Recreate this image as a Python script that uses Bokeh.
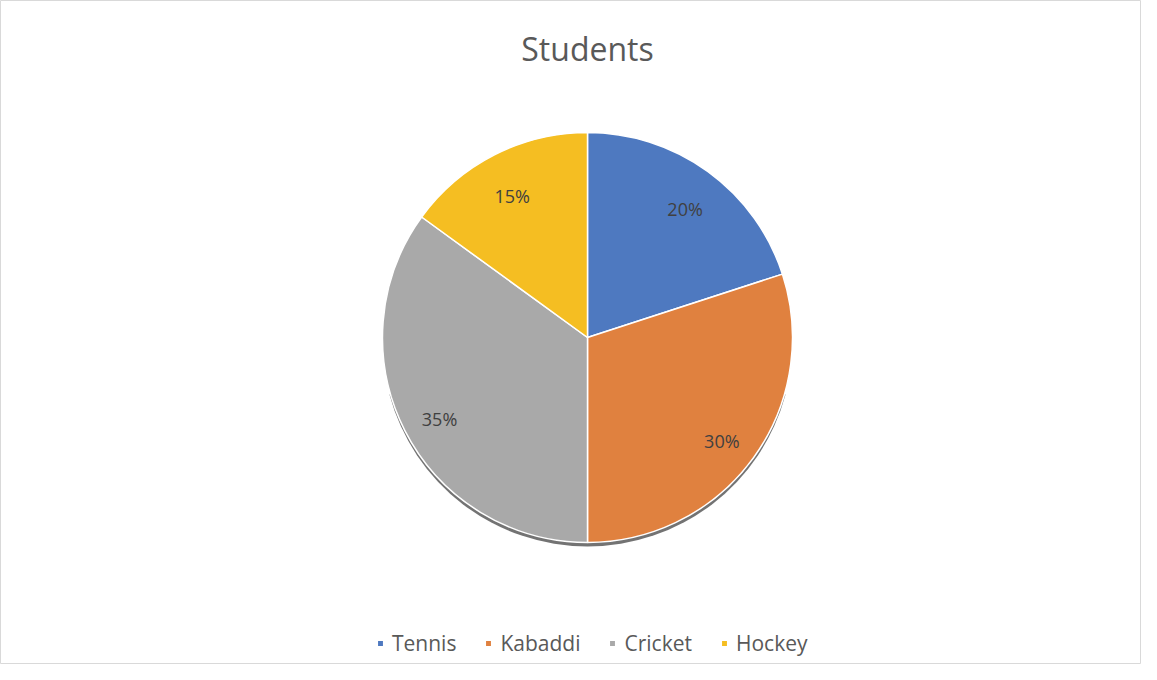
import math
from bokeh.plotting import figure
from bokeh.models import ColumnDataSource, Range1d, Legend, LegendItem
from bokeh.core.properties import value
from bokeh.embed import file_html
from bokeh.resources import INLINE

# ---- data ----
sports = ["Tennis", "Kabaddi", "Cricket", "Hockey"]
shares = [20, 30, 35, 15]
colors = ["#4E79C0", "#E0813F", "#A9A9A9", "#F5BE22"]
title_text = "Students"

# ---- layout constants ----
W, H = 1141, 664
CX, CY = 587, 327
R = 205
LABEL_F = 0.81

total = sum(shares)
starts, ends, lx, ly, labels = [], [], [], [], []
acc = 0.0
for s in shares:
    a0 = math.pi / 2 - 2 * math.pi * acc / total
    acc += s
    a1 = math.pi / 2 - 2 * math.pi * acc / total
    starts.append(a0)
    ends.append(a1)
    mid = (a0 + a1) / 2
    lx.append(CX + LABEL_F * R * math.cos(mid))
    ly.append(CY + LABEL_F * R * math.sin(mid))
    labels.append(f"{s}%")

src = ColumnDataSource(dict(sport=sports, share=shares, color=colors,
                            start=starts, end=ends, lx=lx, ly=ly, label=labels))

p = figure(width=W, height=H, output_backend="svg", toolbar_location=None,
           x_range=Range1d(0, W), y_range=Range1d(0, H), min_border=0)
p.axis.visible = False
p.grid.visible = False
p.outline_line_color = "#d9d9d9"
p.background_fill_color = "white"
p.border_fill_color = "white"

# subtle 3D shadow
p.wedge(x=CX, y=CY - 4, radius=R, start_angle=math.radians(195), end_angle=math.radians(345),
        color="#5a5a5a", alpha=0.85, line_color=None)

r = p.wedge(x=CX, y=CY, radius=R, start_angle="start", end_angle="end", direction="clock",
            fill_color="color", line_color="white", line_width=1.5, source=src)

p.text(x="lx", y="ly", text="label", source=src, text_align="center", text_baseline="middle",
       y_offset=6,
       text_font=value("Open Sans"), text_font_size="18px", text_color="#404040")

p.text(x=[CX], y=[H - 48], text=[title_text], text_align="center", text_baseline="middle",
       text_font=value("Open Sans"), text_font_size="32px", text_color="#595959")

items = [LegendItem(label=sports[i], renderers=[r], index=i) for i in range(len(sports))]
legend = Legend(items=items, orientation="horizontal", location=(376, 7),
                glyph_width=8, glyph_height=8, label_standoff=8, spacing=28,
                label_text_font="Open Sans", label_text_font_size="21px",
                label_text_color="#595959", border_line_color=None,
                background_fill_alpha=0, padding=4, margin=0)
p.add_layout(legend, "center")

open("out.html", "w").write(file_html(p, INLINE))
